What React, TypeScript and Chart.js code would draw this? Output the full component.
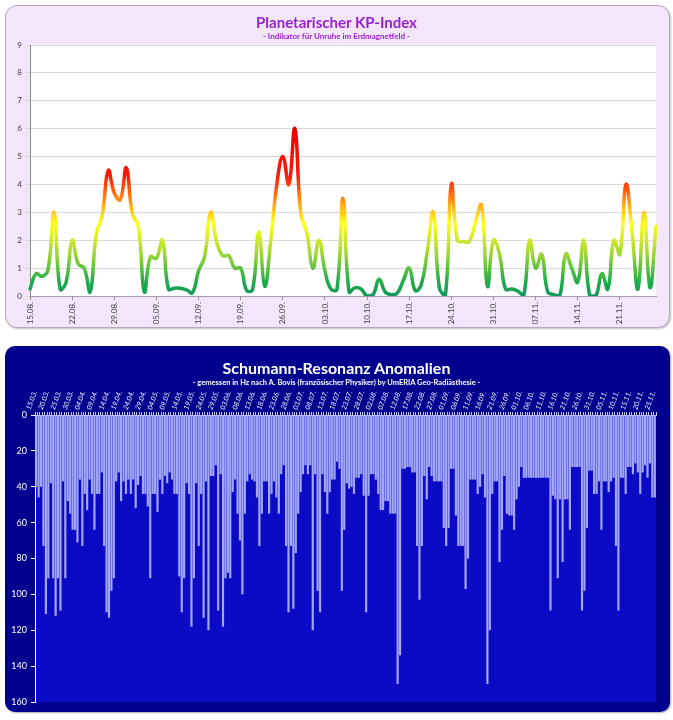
import React, { useEffect, useRef } from 'react';
import { Chart, registerables } from 'chart.js';
Chart.register(...registerables);

// ---------- KP-Index (daily, 15.08. – 27.11.) ----------
const kpStart = { day: 15, month: 8 };
const kpValues: number[] = [
  0.25, 0.8, 0.7, 0.95, 3.0, 0.25, 0.5, 2.0, 1.15, 1.0,
  0.15, 2.2, 2.9, 4.5, 3.7, 3.45, 4.6, 2.95, 2.5, 0.15,
  1.4, 1.35, 2.0, 0.25, 0.28, 0.28, 0.22, 0.12, 0.9, 1.4,
  3.0, 1.95, 1.45, 1.45, 1.0, 1.0, 0.2, 0.25, 2.3, 0.35,
  2.0, 4.0, 5.0, 4.0, 6.0, 2.95, 2.25, 1.0, 2.0, 0.9,
  0.25, 0.25, 3.5, 0.15, 0.3, 0.25, 0.0, 0.05, 0.6, 0.15,
  0.05, 0.1, 0.55, 1.0, 0.2, 0.4, 1.6, 3.0, 0.3, 0.0,
  4.0, 2.0, 1.95, 1.95, 2.65, 3.25, 0.35, 2.0, 1.5, 0.25,
  0.25, 0.18, 0.0, 2.0, 1.0, 1.5, 0.15, 0.05, 0.0, 1.5,
  1.0, 0.5, 2.0, 0.0, 0.0, 0.8, 0.25, 2.0, 1.5, 4.0,
  2.35, 0.25, 3.0, 0.3, 2.5,
];
const kpTickEvery = 7;
const kpYTicks = { min: 0, max: 9, step: 1 };

// ---------- Schumann-Resonanz (daily, 15.03. – 25.11.) ----------
const srStart = { day: 15, month: 3 };
const srValues: number[] = [
  40, 46, 40, 73, 111, 91, 38, 91, 112, 91,
  109, 37, 91, 48, 55, 64, 64, 71, 36, 73,
  44, 53, 36, 44, 64, 44, 44, 32, 73, 110,
  113, 98, 91, 37, 32, 48, 37, 44, 36, 44,
  36, 52, 39, 34, 44, 44, 51, 91, 44, 44,
  54, 36, 44, 34, 38, 32, 36, 44, 44, 90,
  110, 91, 38, 44, 118, 91, 38, 73, 44, 113,
  37, 120, 34, 34, 28, 109, 33, 118, 91, 88,
  91, 43, 36, 55, 70, 100, 55, 37, 33, 36,
  37, 46, 73, 55, 37, 37, 55, 44, 37, 46,
  55, 33, 28, 73, 110, 73, 108, 77, 55, 43,
  33, 28, 33, 28, 120, 33, 98, 110, 33, 43,
  55, 43, 36, 36, 26, 30, 98, 64, 38, 41,
  40, 44, 35, 35, 33, 45, 110, 45, 33, 33,
  36, 44, 53, 53, 48, 48, 55, 55, 55, 150,
  134, 30, 30, 29, 29, 32, 32, 73, 103, 73,
  34, 47, 29, 34, 37, 37, 37, 37, 63, 73,
  63, 30, 30, 56, 73, 73, 73, 97, 80, 36,
  36, 36, 44, 40, 33, 46, 150, 120, 44, 37,
  37, 82, 64, 34, 55, 56, 56, 64, 47, 40,
  29, 35, 35, 35, 35, 35, 35, 35, 35, 35,
  35, 35, 109, 45, 47, 91, 47, 82, 47, 47,
  64, 29, 29, 29, 29, 109, 98, 63, 31, 31,
  44, 44, 37, 64, 37, 37, 43, 37, 35, 73,
  109, 35, 35, 44, 29, 29, 33, 27, 32, 44,
  32, 28, 35, 27, 46, 46,
];
const srTickEvery = 5;
const srYTicks = { min: 0, max: 160, step: 20 };

function dayLabels(start: { day: number; month: number }, count: number): string[] {
  const out: string[] = [];
  const d = new Date(2021, start.month - 1, start.day);
  for (let i = 0; i < count; i++) {
    const dd = String(d.getDate()).padStart(2, '0');
    const mm = String(d.getMonth() + 1).padStart(2, '0');
    out.push(`${dd}.${mm}.`);
    d.setDate(d.getDate() + 1);
  }
  return out;
}

const kpLabels = dayLabels(kpStart, kpValues.length);
const srLabels = dayLabels(srStart, srValues.length);

const plotBg = (color: string, border?: string) => ({
  id: 'plotBg',
  beforeDraw(chart: any) {
    const { ctx, chartArea: a } = chart;
    if (!a) return;
    ctx.save();
    ctx.fillStyle = color;
    ctx.fillRect(a.left, a.top, a.right - a.left, a.bottom - a.top);
    if (border) {
      ctx.strokeStyle = border;
      ctx.lineWidth = 1;
      ctx.strokeRect(a.left + 0.5, a.top + 0.5, a.right - a.left - 1, a.bottom - a.top - 1);
    }
    ctx.restore();
  },
});

const kpStops: [number, string][] = [
  [0, '#0f985a'],
  [0.5, '#1fac4b'],
  [1, '#5cc23d'],
  [1.5, '#9ed634'],
  [2, '#cfe82c'],
  [2.6, '#ffff1a'],
  [3.2, '#ffb41a'],
  [3.8, '#ff5a10'],
  [4.3, '#ff1a0a'],
  [6, '#e80000'],
];

function kpColor(ctx: any) {
  const chart = ctx.chart;
  if (!chart.chartArea) return '#2a2';
  const y = chart.scales.y;
  const y0 = y.getPixelForValue(0);
  const y6 = y.getPixelForValue(6);
  const g = chart.ctx.createLinearGradient(0, y0, 0, y6);
  kpStops.forEach(([v, c]) => g.addColorStop(v / 6, c));
  return g;
}

const FONT = 'Lato, "Open Sans", sans-serif';

function KpChart() {
  const ref = useRef<HTMLCanvasElement>(null);
  useEffect(() => {
    const chart = new Chart(ref.current!, {
      type: 'line',
      data: {
        labels: kpLabels,
        datasets: [
          {
            data: kpValues,
            borderColor: kpColor as any,
            borderWidth: 3.5,
            pointRadius: 0,
            tension: 0.45,
            fill: false,
            borderCapStyle: 'round',
            borderJoinStyle: 'round',
          },
        ],
      },
      options: {
        animation: false,
        responsive: false,
        maintainAspectRatio: false,
        layout: { padding: { left: 0, right: 14, top: 40, bottom: 0 } },
        plugins: { legend: { display: false }, tooltip: { enabled: false }, title: { display: false } },
        scales: {
          x: {
            grid: { drawOnChartArea: false, drawTicks: true, tickLength: 4, color: '#909090' },
            border: { color: '#a0a0a0' },
            ticks: {
              autoSkip: false,
              minRotation: 90,
              maxRotation: 90,
              padding: 2,
              color: '#404040',
              font: { size: 8, family: FONT },
              callback: (_v: any, i: number) => (i % kpTickEvery === 0 ? kpLabels[i] : null),
            },
            afterFit: (s: any) => {
              s.height = 32;
            },
          },
          y: {
            min: kpYTicks.min,
            max: kpYTicks.max,
            ticks: { stepSize: kpYTicks.step, color: '#404040', font: { size: 8, family: FONT }, padding: 4 },
            grid: { color: '#d9d9d9', tickLength: 4, drawTicks: true },
            border: { color: '#8a8a8a' },
            afterFit: (s: any) => {
              s.width = 25;
            },
          },
        },
      } as any,
      plugins: [plotBg('#ffffff')],
    });
    return () => chart.destroy();
  }, []);
  return <canvas ref={ref} width={665} height={323} style={{ position: 'absolute', left: 5, top: 5 }} />;
}

function SrChart() {
  const ref = useRef<HTMLCanvasElement>(null);
  useEffect(() => {
    const chart = new Chart(ref.current!, {
      type: 'bar',
      data: {
        labels: srLabels,
        datasets: [
          {
            data: srValues,
            backgroundColor: '#a2a6f7',
            borderWidth: 0,
            barPercentage: 0.9,
            categoryPercentage: 1,
          },
        ],
      },
      options: {
        animation: false,
        responsive: false,
        maintainAspectRatio: false,
        layout: { padding: { left: 0, right: 14, top: 44, bottom: 10 } },
        plugins: { legend: { display: false }, tooltip: { enabled: false } },
        scales: {
          x: {
            position: 'top',
            grid: { drawOnChartArea: false, drawTicks: true, tickLength: 3, color: '#c8ccff' },
            border: { color: '#c8ccff' },
            ticks: {
              autoSkip: false,
              minRotation: 70,
              maxRotation: 70,
              padding: 1,
              color: '#ffffff',
              font: { size: 7, style: 'italic', family: FONT },
              callback: (_v: any, i: number) => (i % srTickEvery === 0 ? srLabels[i] : ''),
            },
            afterFit: (s: any) => {
              s.height = 25;
            },
          },
          y: {
            reverse: true,
            min: srYTicks.min,
            max: srYTicks.max,
            ticks: { stepSize: srYTicks.step, color: '#ffffff', font: { size: 9, family: FONT }, padding: 4 },
            grid: { drawOnChartArea: false, drawTicks: true, tickLength: 4, color: '#ffffff' },
            border: { color: '#ffffff' },
            afterFit: (s: any) => {
              s.width = 30;
            },
          },
        },
      } as any,
      plugins: [plotBg('#0b0bc6')],
    });
    return () => chart.destroy();
  }, []);
  return <canvas ref={ref} width={665} height={366} style={{ position: 'absolute', left: 5, top: 346 }} />;
}

export default function App() {
  const center: React.CSSProperties = {
    position: 'absolute',
    left: 0,
    width: 673,
    textAlign: 'center',
    fontFamily: FONT,
    fontWeight: 700,
    whiteSpace: 'nowrap',
  };
  return (
    <div style={{ position: 'absolute', left: 0, top: 0, width: 673, height: 720, background: '#ffffff', overflow: 'hidden' }}>
      <div
        style={{
          position: 'absolute',
          left: 5,
          top: 5,
          width: 665,
          height: 323,
          boxSizing: 'border-box',
          background: '#f3e6fb',
          border: '1.5px solid #b3a9ba',
          borderRadius: 12,
          boxShadow: '1px 1px 2px rgba(0,0,0,0.25)',
        }}
      />
      <KpChart />
      <div style={{ ...center, top: 13, height: 18, lineHeight: '18px', fontSize: 15, color: '#9a1fcf' }}>
        Planetarischer KP-Index
      </div>
      <div style={{ ...center, top: 31, height: 10, lineHeight: '10px', fontSize: 8, color: '#9a1fcf' }}>
        - Indikator für Unruhe im Erdmagnetfeld -
      </div>

      <div
        style={{
          position: 'absolute',
          left: 5,
          top: 346,
          width: 665,
          height: 366,
          boxSizing: 'border-box',
          background: '#00008e',
          borderRadius: 10,
          boxShadow: '1px 1px 2px rgba(0,0,0,0.35)',
        }}
      />
      <SrChart />
      <div style={{ ...center, top: 359, height: 18, lineHeight: '18px', fontSize: 16, color: '#ffffff' }}>
        Schumann-Resonanz Anomalien
      </div>
      <div style={{ ...center, top: 378, height: 10, lineHeight: '10px', fontSize: 7.5, color: '#ffffff' }}>
        - gemessen in Hz nach A. Bovis (französischer Physiker) by UmERIA Geo-Radiästhesie -
      </div>
    </div>
  );
}
